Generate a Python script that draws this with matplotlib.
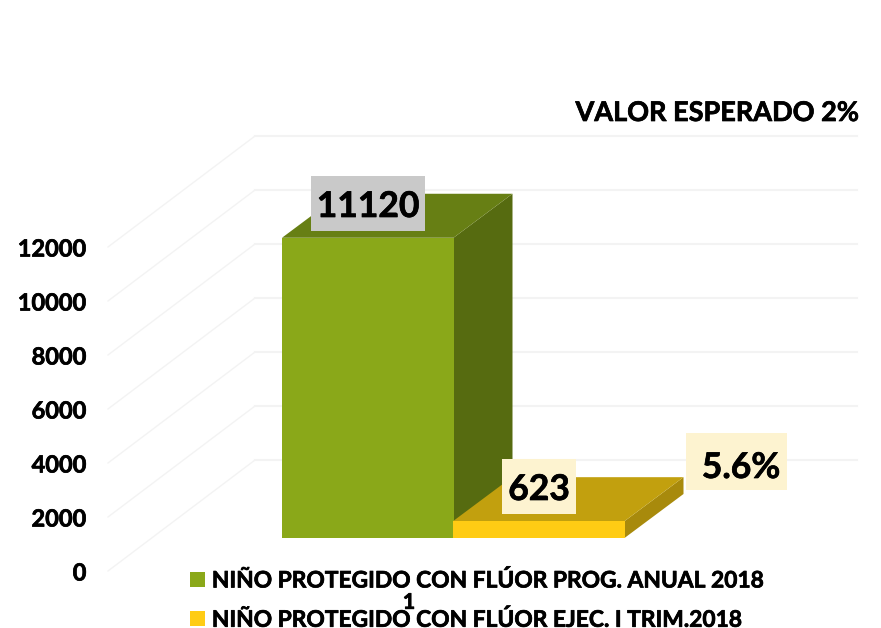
import matplotlib
matplotlib.use("Agg")
import matplotlib.pyplot as plt
import matplotlib.patheffects as pe
from matplotlib.patches import Polygon, Rectangle
from matplotlib.transforms import Affine2D

categories = ["1"]
series_names = ["NIÑO PROTEGIDO CON FLÚOR PROG. ANUAL 2018",
                "NIÑO PROTEGIDO CON FLÚOR EJEC. I TRIM.2018"]
series_values = [11120, 623]
y_ticks = [0, 2000, 4000, 6000, 8000, 10000, 12000]
value_labels = ["11120", "623"]
percent_label = "5.6%"
title = "VALOR ESPERADO 2%"

front_colors = ["#8aa819", "#ffcc14"]
top_colors = ["#677f14", "#c2a00e"]
side_colors = ["#566b10", "#a88a0c"]

W, H = 881, 628
px_per_value = 324 / 12000
# Lato bold comes out thinner than the reference, thicken it a bit
heavy = [pe.withStroke(linewidth=0.5, foreground="black")]


def lift(px):
    # vertical pixels expressed in axis units, for the fake 3d depth
    return px / px_per_value


fig = plt.figure(figsize=(W / 100, H / 100), dpi=100)
plt.rcParams['font.family'] = ['Lato', 'DejaVu Sans']
ax = fig.add_axes([108 / W, (H - 571) / H, (W - 108) / W, 324 / H])
ax.set_xlim(108, W)
ax.set_ylim(0, 12000)
for s in ax.spines.values():
    s.set_visible(False)
ax.patch.set_visible(False)

# pixel coordinates (origin top left) for boxes and loose labels
pix = Affine2D().scale(1 / W, -1 / H).translate(0, 1) + fig.transFigure

# walls: side lines and back lines
wall_dx, wall_dy = 147, 111
for v in y_ticks:
    ax.plot([108, 108 + wall_dx], [v, v + lift(wall_dy)], color="#f3f3f3", lw=1.0, zorder=1, clip_on=False)
    ax.plot([108 + wall_dx, 857], [v + lift(wall_dy)] * 2, color="#f3f3f3", lw=1.5, zorder=1, clip_on=False)

# bars
bar_left = [282, 453]
bar_width = 171.5
base = lift(33)
dx, dy = 59, lift(44)
for i in range(len(series_values)):
    x0 = bar_left[i]
    x1 = x0 + bar_width
    v = series_values[i]
    ax.add_patch(Polygon([(x1, base), (x1 + dx, base + dy), (x1 + dx, base + dy + v), (x1, base + v)],
                         fc=side_colors[i], ec="none", zorder=2 + i, clip_on=False))
    ax.add_patch(Polygon([(x0, base + v), (x1, base + v), (x1 + dx, base + dy + v), (x0 + dx, base + dy + v)],
                         fc=top_colors[i], ec="none", zorder=2 + i, clip_on=False))
    ax.add_patch(Polygon([(x0, base), (x1, base), (x1, base + v), (x0, base + v)],
                         fc=front_colors[i], ec="none", zorder=2 + i, clip_on=False, label=series_names[i]))

# axis labels
ax.set_yticks(y_ticks)
ax.set_yticklabels([str(v) for v in y_ticks], fontsize=17, fontweight="bold", color="black", path_effects=heavy)
ax.set_xticks([409])
ax.set_xticklabels(categories, fontsize=15.5, fontweight="bold", color="black", path_effects=heavy)
ax.tick_params(axis="y", length=0, pad=15.5)
ax.tick_params(axis="x", length=0, pad=15)

# value boxes
boxes = [(311, 176, 114, 55, "#c9c9c9"), (502, 459, 74, 55, "#fdf3d0"), (686, 433, 101, 57, "#fdf3d0")]
labels = value_labels + [percent_label]
label_pos = [(368, 207), (539, 490), (741, 468)]
for b, txt, p in zip(boxes, labels, label_pos):
    fig.add_artist(Rectangle((b[0], b[1]), b[2], b[3], fc=b[4], ec="none", transform=pix, zorder=6))
    fig.text(p[0], p[1], txt, transform=pix, ha="center", va="center", fontsize=25.5,
             fontweight="bold", color="black", zorder=7, path_effects=heavy)

fig.text(859, 113, title, transform=pix, ha="right", va="center", fontsize=19.5,
         fontweight="bold", color="black", path_effects=heavy)

# legend
leg = ax.legend(loc="upper left", bbox_to_anchor=(190 / W, 1 - 570 / H), bbox_transform=fig.transFigure,
                frameon=False, prop={"size": 16.4, "weight": "bold"}, handlelength=0.66, handleheight=0.66,
                handletextpad=0.3, labelspacing=0.78, borderpad=0, borderaxespad=0)
for t in leg.get_texts():
    t.set_color("black")
    t.set_path_effects(heavy)

fig.savefig("out.png", dpi=100)
